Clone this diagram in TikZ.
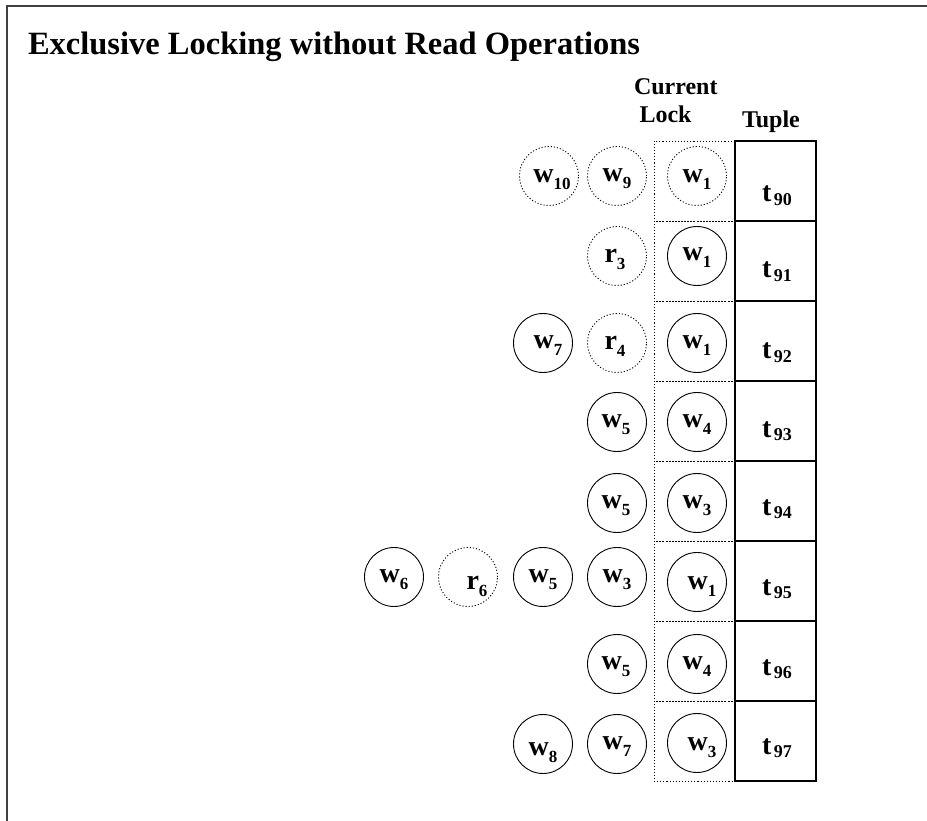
\documentclass[tikz,border=0pt]{standalone}
\usepackage{fontspec}
\setmainfont{Liberation Serif}
\newcommand\opl[2]{{\fontsize{28}{28}\selectfont\bfseries #1\raisebox{-7pt}{\fontsize{17}{17}\selectfont #2}}}
\newcommand\tpl[1]{{\fontsize{28}{28}\selectfont\bfseries t\hspace{2.5pt}\raisebox{-3.4pt}{\fontsize{18}{18}\selectfont #1}}}
\tikzset{
  op/.style={circle, draw, line width=0.9pt, minimum size=59pt, inner sep=0pt},
  opd/.style={op, dash pattern=on 1.1pt off 2pt},
  txt/.style={inner sep=0pt, outer sep=0pt},
  tbox/.style={draw, line width=1.1pt, minimum width=81pt, minimum height=80pt, anchor=north west, inner sep=0pt, outer sep=0pt},
  lbox/.style={draw, line width=0.9pt, dash pattern=on 1.1pt off 2pt, minimum width=81pt, minimum height=80pt, anchor=north west, inner sep=0pt, outer sep=0pt},
  hdr/.style={txt, anchor=base west, font=\fontsize{24}{24}\selectfont\bfseries}
}
\begin{document}
\begin{tikzpicture}[x=1pt,y=-1pt]
\useasboundingbox (0,0) rectangle (927,821);
% frame
\draw[line width=1.4pt, black!75] (927,6) -- (7,6) -- (7,821);
% title and headers
\node[txt, anchor=base west, font=\fontsize{32.5}{32.5}\selectfont\bfseries] (title) at (28,54.5) {Exclusive Locking without Read Operations};
\node[hdr] (cur) at (634,94.5) {Current};
\node[hdr] (lock) at (639.5,122.5) {Lock};
\node[hdr] (tuple) at (742,128) {Tuple};
% lock column and tuple column
\foreach \i/\yy in {0/141, 1/221, 2/301, 3/381, 4/461, 5/541, 6/621, 7/701}{
  \node[lbox] (lk\i) at (654,\yy) {};
}
\foreach \i/\yy/\tb/\num in {0/141/61/90, 1/221/57/91, 2/301/58/92, 3/381/56/93, 4/461/54/94, 5/541/54/95, 6/621/54/96, 7/701/53/97}{
  \node[tbox] (tp\i) at (735,\yy) {};
  \node[txt, anchor=base] (tl\i) at (777,\yy+\tb) {\tpl{\num}};
}
% operation circles: name/x/y/style/letter/sub/dx/dy
\foreach \n/\cx/\cy/\st/\l/\s/\dx/\dy in {
  aw10/549/176/opd/w/10/3/4,
  aw9/617/176/opd/w/9/0/3,
  aw1/697/176/opd/w/1/0/4,
  br3/617/256/opd/r/3/-2/3,
  bw1/697/256/op/w/1/0/2,
  cw7/543/343/op/w/7/5/3,
  cr4/617/343/opd/r/4/-2/3,
  cw1/697/343/op/w/1/0/3,
  dw5/617/422/op/w/5/-1/3,
  dw4/697/422/op/w/4/0/3,
  ew5/617/503/op/w/5/-1/3,
  ew3/697/503/op/w/3/0/3,
  fw6/394/577/op/w/6/0/3,
  fr6/468/577/opd/r/6/9/9,
  fw5/543/577/op/w/5/0/3,
  fw3/617/577/op/w/3/0/3,
  fw1/697/582/op/w/1/5/5,
  gw5/617/664/op/w/5/-1/3,
  gw4/697/664/op/w/4/0/3,
  hw8/543/744/op/w/8/0/9,
  hw7/617/744/op/w/7/0/3,
  hw3/697/743/op/w/3/5/5}{
  \node[\st] (\n) at (\cx,\cy) {};
  \node[txt] (\n l) at ([shift={(\dx,\dy)}]\n.center) {\opl{\l}{\s}};
}
\end{tikzpicture}
\end{document}
